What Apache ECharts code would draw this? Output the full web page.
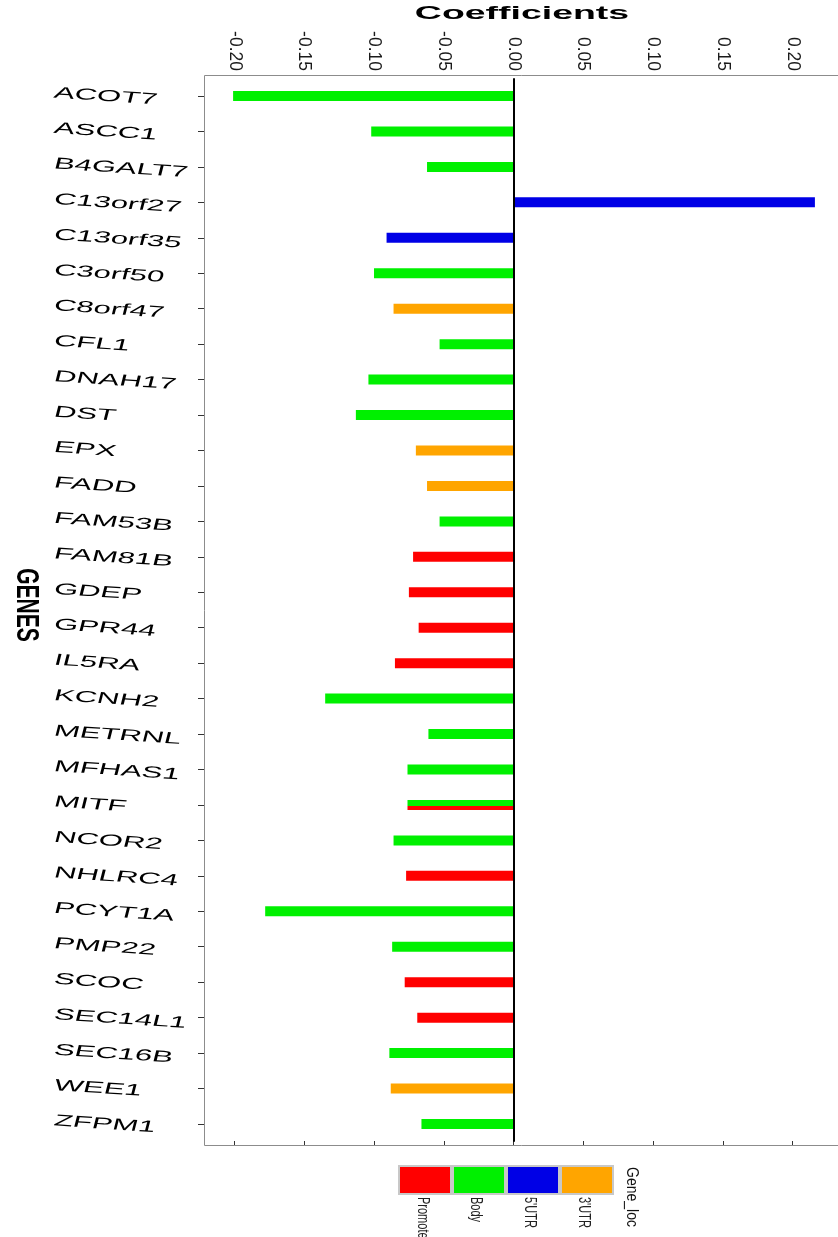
<!DOCTYPE html>
<html>
<head>
<meta charset="utf-8">
<script src="https://cdn.jsdelivr.net/npm/echarts@6/dist/echarts.min.js"></script>
<style>html,body{margin:0;padding:0;background:#fff}#c{width:838px;height:1237px}</style>
</head>
<body>
<div id="c"></div>
<script>
const genes = ['ACOT7','ASCC1','B4GALT7','C13orf27','C13orf35','C3orf50','C8orf47','CFL1','DNAH17','DST',
  'EPX','FADD','FAM53B','FAM81B','GDEP','GPR44','IL5RA','KCNH2','METRNL','MFHAS1',
  'MITF','NCOR2','NHLRC4','PCYT1A','PMP22','SCOC','SEC14L1','SEC16B','WEE1','ZFPM1'];
const n = null;
//                ACOT7  ASCC1  B4GAL  C13o27 C13o35 C3o50  C8o47  CFL1   DNAH17 DST
const promoter = [n,     n,     n,     n,     n,     n,     n,     n,     n,     n,
//                EPX    FADD   FAM53B FAM81B GDEP   GPR44  IL5RA  KCNH2  METRNL MFHAS1
                  n,     n,     n,     -0.072,-0.075,-0.068,-0.085,n,     n,     n,
//                MITF   NCOR2  NHLRC4 PCYT1A PMP22  SCOC   SEC14L SEC16B WEE1   ZFPM1
                  -0.076,n,     -0.077,n,     n,     -0.078,-0.069,n,     n,     n];
const body =     [-0.201,-0.102,-0.062,n,     n,     -0.100,n,     -0.053,-0.104,-0.113,
                  n,     n,     -0.053,n,     n,     n,     n,     -0.135,-0.061,-0.076,
                  -0.076,-0.086,n,     -0.178,-0.087,n,     n,     -0.089,n,     -0.066];
const utr5 =     [n,     n,     n,     0.216, -0.091,n,     n,     n,     n,     n,
                  n,     n,     n,     n,     n,     n,     n,     n,     n,     n,
                  n,     n,     n,     n,     n,     n,     n,     n,     n,     n];
const utr3 =     [n,     n,     n,     n,     n,     n,     -0.086,n,     n,     n,
                  -0.070,-0.062,n,     n,     n,     n,     n,     n,     n,     n,
                  n,     n,     n,     n,     n,     n,     n,     n,     -0.088,n];
const locNames = ['Promoter', 'Body', "5'UTR", "3'UTR"];
const locValues = [promoter, body, utr5, utr3];
const locColors = ['#ff0000', '#00f000', '#0000e6', '#ffa500'];
const tickValues = [-0.20, -0.15, -0.10, -0.05, 0.00, 0.05, 0.10, 0.15, 0.20];

const all = locValues.flat().filter(v => v != null);
const dMin = Math.min(...all), dMax = Math.max(...all), span = dMax - dMin;
const xMin = dMin - 0.05 * span, xMax = dMax + 0.05 * span;

const counts = genes.map((g, i) => locValues.filter(a => a[i] != null).length);

const chart = echarts.init(document.getElementById('c'), null, {renderer: 'canvas'});

function renderItem(params, api) {
  const v = api.value(0), ci = api.value(1);
  const p0 = api.coord([0, ci]), p1 = api.coord([v, ci]);
  const h = 10;
  let y0 = p0[1] - h / 2, hh = h;
  if (counts[ci] > 1) {
    if (params.seriesIndex === 1) { hh = 6; }
    else { y0 = p0[1] + 1; hh = 4; }
  }
  return {
    type: 'rect',
    shape: {x: Math.min(p0[0], p1[0]), y: y0, width: Math.abs(p1[0] - p0[0]), height: hh},
    style: {fill: api.visual('color')}
  };
}

const series = locNames.map((name, k) => ({
  name: name,
  type: 'custom',
  xAxisIndex: 0,
  yAxisIndex: 0,
  renderItem: renderItem,
  clip: false,
  encode: {x: 0, y: 1},
  itemStyle: {color: locColors[k]},
  data: genes.map((g, i) => locValues[k][i] == null ? null : [locValues[k][i], g]).filter(Boolean),
  z: 2,
  silent: true
}));
series[0].markLine = {
  silent: true, symbol: 'none', label: {show: false},
  lineStyle: {color: '#000', width: 2, type: 'solid'},
  data: [{xAxis: 0}], z: 5
};
// panel frame (top, left, bottom) drawn from the grid's own rectangle; right side runs off the page
series.push({
  name: 'frame', type: 'custom', xAxisIndex: 1, yAxisIndex: 1, clip: false, silent: true, z: 1,
  data: [[0, 0]],
  renderItem: (params) => {
    const cs = params.coordSys;
    const x = cs.x + 0.5, y = cs.y + 0.5, r = cs.x + cs.width + 40, b = cs.y + cs.height + 0.5;
    return {type: 'polyline', shape: {points: [[r, y], [x, y], [x, b], [r, b]]},
      style: {fill: 'none', stroke: '#8c8c8c', lineWidth: 1}};
  }
});

const option = {
  animation: false,
  backgroundColor: '#fff',
  grid: [
    {left: 204, width: 640, top: 78.3, bottom: 95.3, show: false, containLabel: false, outerBoundsMode: 'none'},
    {left: 204, width: 640, top: 75, bottom: 92, show: false, containLabel: false, outerBoundsMode: 'none'}
  ],
  xAxis: [
    {type: 'value', gridIndex: 0, min: xMin, max: xMax, show: false},
    {type: 'value', gridIndex: 1, position: 'top', min: xMin, max: xMax,
      axisLine: {show: false}, splitLine: {show: false},
      axisTick: {show: true, length: 4, lineStyle: {color: '#333'}, customValues: tickValues},
      axisLabel: {show: true, rotate: -90, margin: 4, fontSize: 17.5, color: '#1a1a1a',
        fontFamily: 'Liberation Sans, Arial, sans-serif',
        customValues: tickValues, formatter: v => (Math.abs(v) < 1e-9 ? 0 : v).toFixed(2)}}
  ],
  yAxis: [
    {type: 'category', gridIndex: 0, data: genes, inverse: true,
      axisLine: {show: false, onZero: false},
      axisTick: {show: true, alignWithLabel: true, length: 6, lineStyle: {color: '#333'}},
      axisLabel: {show: false}, splitLine: {show: false}},
    {type: 'value', gridIndex: 1, min: 0, max: 1, show: false}
  ],
  legend: {
    show: true, orient: 'horizontal', left: 398, top: 1165,
    icon: 'rect', itemWidth: 50, itemHeight: 26, itemGap: 4,
    backgroundColor: '#c8c8c8', padding: 2, selectedMode: false,
    formatter: () => '', textStyle: {fontSize: 1, padding: 0},
    data: locNames
  },
  series: series
};
chart.setOption(option);

const gfx = [];
genes.forEach((g) => {
  const py = chart.convertToPixel({yAxisIndex: 0}, g);
  gfx.push({
    type: 'group', x: 54, y: py - 3, scaleX: 1.95, silent: true,
    children: [{type: 'text', x: 0, y: 0, rotation: -0.13,
      style: {text: g, fontSize: 16, fontFamily: 'Liberation Sans, Arial, sans-serif', fill: '#000',
        align: 'left', verticalAlign: 'middle'}}]
  });
});
gfx.push({
  type: 'group', x: 522, y: 14, scaleX: 2.08, silent: true,
  children: [{type: 'text', style: {text: 'Coefficients', fontSize: 18, fontWeight: 'bold',
    fontFamily: 'Liberation Sans, Arial, sans-serif', fill: '#000', align: 'center', verticalAlign: 'middle'}}]
});
gfx.push({
  type: 'group', x: 26, y: 605, scaleX: 1.5, silent: true,
  children: [{type: 'text', rotation: -Math.PI / 2, style: {text: 'GENES', fontSize: 21, fontWeight: 'bold',
    fontFamily: 'Liberation Sans, Arial, sans-serif', fill: '#000', align: 'center', verticalAlign: 'middle'}}]
});
const legendLabelX = [423, 476, 530, 584];
locNames.forEach((nm, k) => {
  gfx.push({type: 'group', x: legendLabelX[k], y: 1197, scaleX: 1.5, silent: true,
    children: [{type: 'text', rotation: -Math.PI / 2,
      style: {text: nm, fontSize: 11, fontFamily: 'Liberation Sans, Arial, sans-serif', fill: '#222',
        align: 'left', verticalAlign: 'middle'}}]});
});
gfx.push({
  type: 'group', x: 632, y: 1167, scaleX: 1.2, silent: true,
  children: [{type: 'text', rotation: -Math.PI / 2, style: {text: 'Gene_loc', fontSize: 14,
    fontFamily: 'Liberation Sans, Arial, sans-serif', fill: '#111', align: 'left', verticalAlign: 'middle'}}]
});
chart.setOption({graphic: gfx});
</script>
</body>
</html>
